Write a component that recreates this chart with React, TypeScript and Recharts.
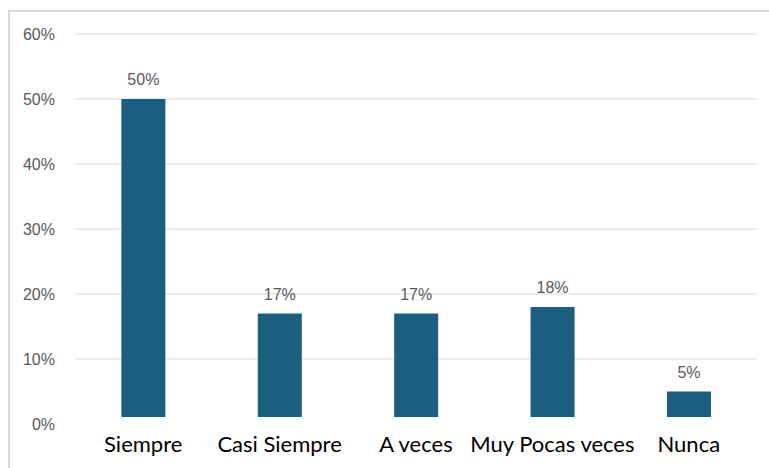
import { BarChart, Bar, XAxis, YAxis, CartesianGrid, LabelList } from "recharts";

const CATEGORIES = ["Siempre", "Casi Siempre", "A veces", "Muy Pocas veces", "Nunca"];
const VALUES = [50, 17, 17, 18, 5];
const Y_TICKS = [0, 10, 20, 30, 40, 50, 60];
const GRID_LINES = [10, 20, 30, 40, 50, 60];

const BAR_COLOR = "#1a5e80";

const data = CATEGORIES.map((name, i) => ({ name, value: VALUES[i] }));

// bars stop a little short of the baseline, like the original
const TrimmedBar = (props: any) => {
  const { x, y, width, height, fill } = props;
  return <rect x={x} y={y} width={width} height={Math.max(0, height - 7)} fill={fill} />;
};

export default function App() {
  return (
    <div style={{ position: "fixed", left: 0, top: 0, width: 769, height: 468, background: "#fff", overflow: "hidden" }}>
      <div
        style={{
          position: "absolute",
          left: 8,
          top: 10,
          width: 800,
          height: 500,
          borderLeft: "2px solid #d9d9d9",
          borderTop: "2px solid #d9d9d9",
        }}
      />
      <div style={{ position: "absolute", left: 0, top: 0 }}>
        <BarChart
          width={769}
          height={468}
          data={data}
          margin={{ top: 34, right: 12, bottom: 0, left: 0 }}
          barCategoryGap="34%"
        >
          <CartesianGrid
            vertical={false}
            stroke="#d9d9d9"
            horizontalValues={GRID_LINES}
          />
          <XAxis
            dataKey="name"
            axisLine={false}
            tickLine={false}
            tickSize={0}
            tickMargin={12}
            height={44}
            interval={0}
            tick={{ fill: "#000", fontSize: 22, fontFamily: "Lato" }}
          />
          <YAxis
            domain={[0, 60]}
            ticks={Y_TICKS}
            width={75}
            axisLine={false}
            tickLine={false}
            tickSize={0}
            tickMargin={20}
            tickFormatter={(v) => `${v}%`}
            tick={{ fill: "#595959", fontSize: 16, fontFamily: "Liberation Sans" }}
          />
          <Bar dataKey="value" fill={BAR_COLOR} isAnimationActive={false} shape={TrimmedBar}>
            <LabelList
              dataKey="value"
              position="top"
              offset={14}
              formatter={(v: any) => `${v}%`}
              style={{ fill: "#595959", fontSize: 16, fontFamily: "Liberation Sans" }}
            />
          </Bar>
        </BarChart>
      </div>
    </div>
  );
}
